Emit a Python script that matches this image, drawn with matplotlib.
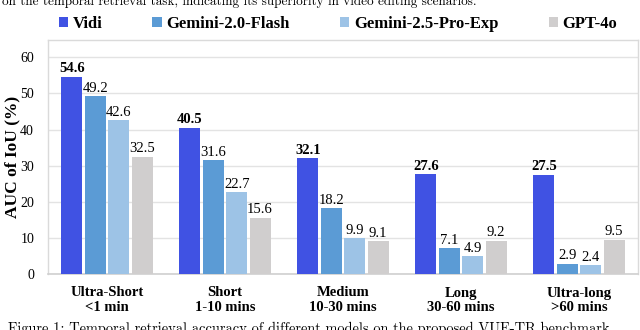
import matplotlib
matplotlib.use("Agg")
import matplotlib.pyplot as plt
import numpy as np

# data
categories = ["Ultra-Short\n<1 min", "Short\n1-10 mins", "Medium\n10-30 mins",
              "Long\n30-60 mins", "Ultra-long\n>60 mins"]
models = ["Vidi", "Gemini-2.0-Flash", "Gemini-2.5-Pro-Exp", "GPT-4o"]
vidi = [54.6, 40.5, 32.1, 27.6, 27.5]
gemini_20_flash = [49.2, 31.6, 18.2, 7.1, 2.9]
gemini_25_pro = [42.6, 22.7, 9.9, 4.9, 2.4]
gpt_4o = [32.5, 15.6, 9.1, 9.2, 9.5]
yticks = [0, 10, 20, 30, 40, 50, 60]

top_text = "on the temporal retrieval task, indicating its superiority in video editing scenarios."
caption = "Figure 1: Temporal retrieval accuracy of different models on the proposed VUE-TR benchmark."

colors = ["#4052E3", "#5B9BD5", "#9DC3E6", "#D0CECE"]
series = [vidi, gemini_20_flash, gemini_25_pro, gpt_4o]

plt.rcParams['font.family'] = ['Liberation Serif', 'DejaVu Serif']

fig = plt.figure(figsize=(6.4, 3.3), dpi=100)
ax = fig.add_axes([48/640, 56/330, 590/640, 234/330])

x = np.arange(len(categories))
step = 0.198
width = 0.178
for i, (vals, col, name) in enumerate(zip(series, colors, models)):
    pos = x + (i - 1.5) * step
    bars = ax.bar(pos, vals, width=width, color=col, label=name, zorder=3)
    for b, v in zip(bars, vals):
        ax.annotate(f"{v:.1f}", (b.get_x() + b.get_width() / 2, v),
                    xytext=(0, 1), textcoords='offset points',
                    ha='center', va='bottom', fontsize=10.5,
                    fontweight='bold' if i == 0 else 'normal', zorder=4)

ax.set_xlim(-0.5, len(categories) - 0.5)
ax.set_ylim(0, 64.8)
ax.set_yticks(yticks)
ax.set_xticks(x)
ax.set_xticklabels(categories, fontsize=10.5, fontweight='bold', linespacing=1.15)
ax.tick_params(axis='y', length=0, pad=10, labelsize=10)
ax.tick_params(axis='x', length=0, pad=9)
ax.grid(axis='y', color='#E3E3E3', linewidth=1, zorder=0)
for s in ['left', 'top', 'right']:
    ax.spines[s].set_color('#DADADA')
    ax.spines[s].set_linewidth(1)
ax.spines['bottom'].set_color('#D0D0D0')
ax.spines['bottom'].set_linewidth(1.2)
ax.set_ylabel("AUC of IoU (%)", fontsize=12.5, fontweight='bold')
ax.yaxis.set_label_coords(-0.046, 0.5)

ax.legend(loc='center', bbox_to_anchor=(338 / 640, (330 - 24) / 330), bbox_transform=fig.transFigure,
          ncol=4, frameon=False, prop={'weight': 'bold', 'size': 12},
          handlelength=0.55, handleheight=0.55, handletextpad=0.3, columnspacing=3.0)

fig.text(0.003, 1 - 5 / 330, top_text, fontfamily='cmr10', fontsize=9.5,
         ha='left', va='baseline')
fig.text(8 / 640, -3 / 330, caption, fontfamily='cmr10', fontsize=10.4,
         ha='left', va='baseline')

fig.savefig("out.png", dpi=100)
